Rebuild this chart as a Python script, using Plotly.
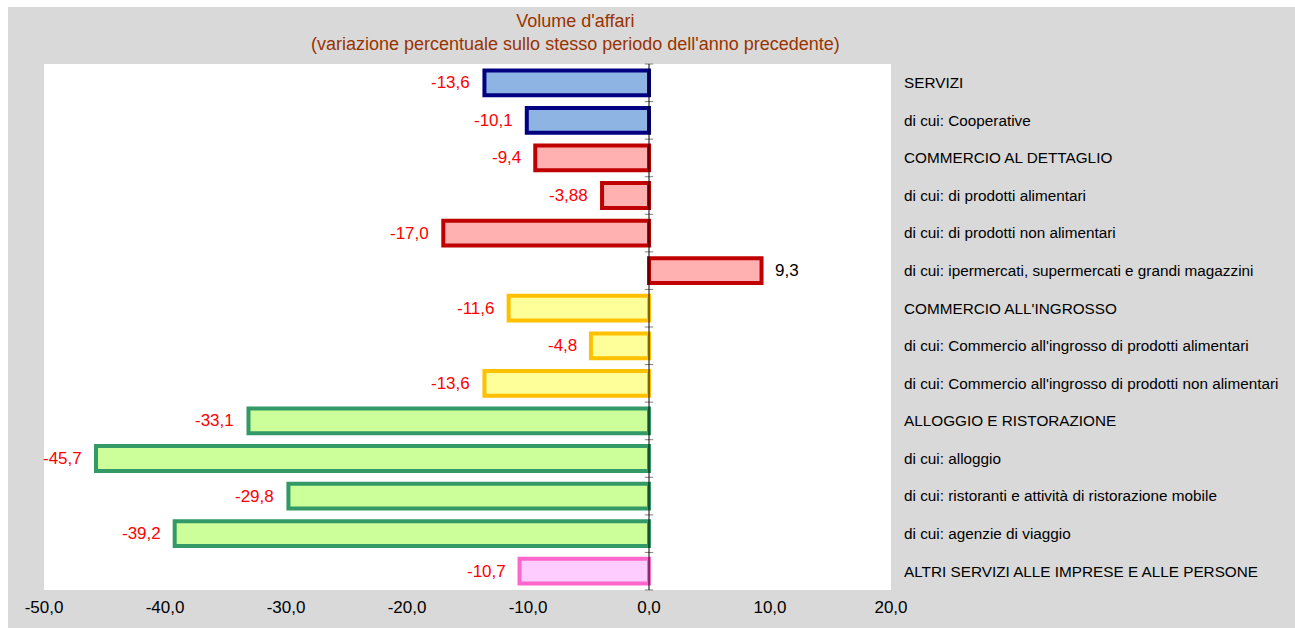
import plotly.graph_objects as go

categories = [
    "SERVIZI",
    "di cui: Cooperative",
    "COMMERCIO AL DETTAGLIO",
    "di cui: di prodotti alimentari",
    "di cui: di prodotti non alimentari",
    "di cui: ipermercati, supermercati e grandi magazzini",
    "COMMERCIO ALL'INGROSSO",
    "di cui: Commercio all'ingrosso di prodotti alimentari",
    "di cui: Commercio all'ingrosso di prodotti non alimentari",
    "ALLOGGIO E RISTORAZIONE",
    "di cui: alloggio",
    "di cui: ristoranti e attività di ristorazione mobile",
    "di cui: agenzie di viaggio",
    "ALTRI SERVIZI ALLE IMPRESE E ALLE PERSONE",
]
values = [-13.6, -10.1, -9.4, -3.88, -17.0, 9.3, -11.6, -4.8, -13.6,
          -33.1, -45.7, -29.8, -39.2, -10.7]
value_labels = ["-13,6", "-10,1", "-9,4", "-3,88", "-17,0", "9,3", "-11,6",
                "-4,8", "-13,6", "-33,1", "-45,7", "-29,8", "-39,2", "-10,7"]
groups = ["serv", "serv", "det", "det", "det", "det", "ing", "ing", "ing",
          "all", "all", "all", "all", "altri"]
x_ticks = [-50, -40, -30, -20, -10, 0, 10, 20]
x_tick_labels = ["-50,0", "-40,0", "-30,0", "-20,0", "-10,0", "0,0", "10,0", "20,0"]

fill_colors = {"serv": "#8db4e2", "det": "#ffb0b0", "ing": "#ffff99",
               "all": "#ccff99", "altri": "#ffccff"}
line_colors = {"serv": "#000080", "det": "#c00000", "ing": "#ffc000",
               "all": "#339966", "altri": "#ff66cc"}

ypos = list(range(len(categories)))
FONT = "Arial, Liberation Sans, sans-serif"

W, H = 1295, 628
ML, MR, MT, MB = 44, 404, 64, 38
PW, PH = W - ML - MR, H - MT - MB

fig = go.Figure()
fig.add_trace(go.Bar(
    x=values, y=ypos, orientation="h", width=0.66,
    marker=dict(color=[fill_colors[g] for g in groups],
                line=dict(color=[line_colors[g] for g in groups], width=4)),
    hoverinfo="skip", showlegend=False,
))

# small tick marks on the zero axis at category boundaries
bounds = [k - 0.5 for k in range(len(categories) + 1)]
fig.add_trace(go.Scatter(
    x=[0] * len(bounds), y=bounds, mode="markers",
    marker=dict(symbol="line-ew", size=6, line=dict(color="#808080", width=1)),
    hoverinfo="skip", showlegend=False, cliponaxis=False,
))

for v, lab, y in zip(values, value_labels, ypos):
    neg = v < 0
    fig.add_annotation(
        x=v, y=y, text=lab, showarrow=False,
        xanchor="right" if neg else "left",
        xshift=-12 if neg else 11,
        font=dict(family=FONT, size=17, color="#ff0000" if neg else "#000000"),
    )

# title
fig.add_annotation(
    xref="paper", yref="paper", x=(575 - ML) / PW, y=1, yshift=8,
    xanchor="center", yanchor="bottom", showarrow=False,
    text="Volume d'affari<br>(variazione percentuale sullo stesso periodo dell'anno precedente)",
    font=dict(family=FONT, size=18, color="#993300"),
)

# zero axis line drawn above the bars
fig.add_shape(type="line", xref="x", yref="paper", x0=0, x1=0, y0=0, y1=1,
              line=dict(color="#000000", width=1), layer="above")

# white page margin strips (top and left), as in the reference
fig.add_shape(type="rect", xref="paper", yref="paper", layer="above",
              x0=-ML / PW, x1=-(ML - 8) / PW, y0=-MB / PH, y1=1 + MT / PH,
              line=dict(width=0), fillcolor="#ffffff")
fig.add_shape(type="rect", xref="paper", yref="paper", layer="above",
              x0=-ML / PW, x1=1 + MR / PW, y0=1 + (MT - 7) / PH, y1=1 + MT / PH,
              line=dict(width=0), fillcolor="#ffffff")

fig.update_layout(
    width=W, height=H,
    margin=dict(l=ML, r=MR, t=MT, b=MB, pad=0),
    paper_bgcolor="#d9d9d9", plot_bgcolor="#ffffff",
    font=dict(family=FONT, color="#000000"),
    xaxis=dict(range=[-50, 20], tickvals=x_ticks, ticktext=x_tick_labels,
               showgrid=False, zeroline=False, showline=False,
               ticks="outside", ticklen=2, tickcolor="rgba(0,0,0,0)",
               tickfont=dict(size=17), fixedrange=True, automargin=False),
    yaxis=dict(range=[len(categories) - 0.5, -0.5], tickvals=ypos,
               ticktext=categories, side="right", showgrid=False,
               zeroline=False, showline=False, ticks="outside", ticklen=9,
               tickcolor="rgba(0,0,0,0)", tickfont=dict(size=15.3),
               fixedrange=True, automargin=False),
)

fig.write_html("out.html", config={"displayModeBar": False},
               post_script="document.body.style.margin='0';document.body.style.overflow='hidden';")
